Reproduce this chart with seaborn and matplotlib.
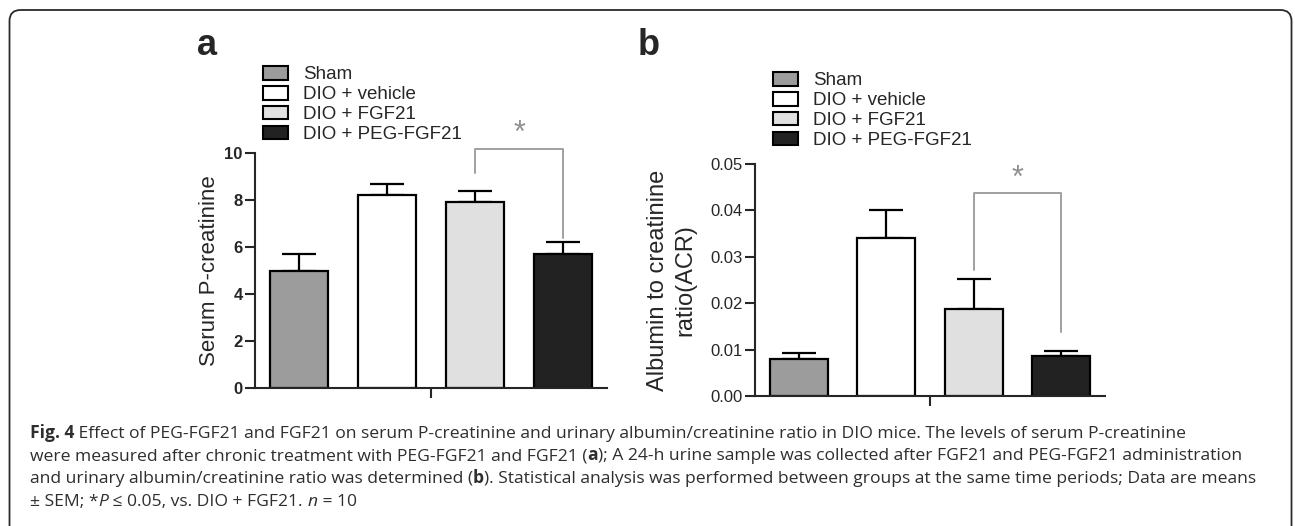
import numpy as np
import matplotlib
matplotlib.use("Agg")
import matplotlib.pyplot as plt
import seaborn as sns
from matplotlib.patches import Patch, FancyBboxPatch
from matplotlib.transforms import IdentityTransform

# groups and colours
groups = ["Sham", "DIO + vehicle", "DIO + FGF21", "DIO + PEG-FGF21"]
bar_colors = ["#9c9c9c", "#ffffff", "#e0e0e0", "#222222"]

# panel a: serum P-creatinine (mean, SEM)
creat_mean = [5.0, 8.21, 7.9, 5.7]
creat_sem = [0.69, 0.45, 0.5, 0.5]

# panel b: albumin to creatinine ratio (mean, SEM)
acr_mean = [0.0080, 0.0340, 0.0188, 0.0086]
acr_sem = [0.0012, 0.0060, 0.0065, 0.0012]

# significance brackets: (left group, right group, top, left end, right end, star height)
sig_a = [2, 3, 10.17, 9.13, 6.38, 10.8]
sig_b = [2, 3, 0.0437, 0.0272, 0.0139, 0.0468]

caption_lines = [
    [("Fig. 4", "bold"), (" Effect of PEG-FGF21 and FGF21 on serum P-creatinine and urinary albumin/creatinine ratio in DIO mice. The levels of serum P-creatinine", "normal")],
    [("were measured after chronic treatment with PEG-FGF21 and FGF21 (", "normal"), ("a", "bold"), ("); A 24-h urine sample was collected after FGF21 and PEG-FGF21 administration", "normal")],
    [("and urinary albumin/creatinine ratio was determined (", "normal"), ("b", "bold"), ("). Statistical analysis was performed between groups at the same time periods; Data are means", "normal")],
    [("\u00b1 SEM; *", "normal"), ("P", "italic"), (" \u2264 0.05, vs. DIO + FGF21. ", "normal"), ("n", "italic"), (" = 10", "normal")],
]

sns.set_style("ticks")
plt.rcParams['font.family'] = ['Liberation Sans', 'DejaVu Sans']

W, H = 1295, 526
fig = plt.figure(figsize=(W / 100, H / 100), dpi=100)


def px_axes(left, top, right, bottom):
    return fig.add_axes([left / W, 1 - bottom / H, (right - left) / W, (bottom - top) / H])


ax_a = px_axes(255, 153, 607, 388)
ax_b = px_axes(755, 164, 1105, 396)


def draw_panel(ax, means, sems, ylim, yticks, fmt, bold, ylabel, ylabel_size, labelpad, sig):
    sns.barplot(x=groups, y=means, hue=groups, palette=bar_colors, order=groups,
                edgecolor="black", linewidth=1.6, width=0.66, errorbar=None,
                legend=False, ax=ax, zorder=2)
    xs = np.arange(len(groups))
    ax.errorbar(xs, means, yerr=[np.zeros(len(sems)), sems], fmt="none",
                ecolor="black", elinewidth=1.6, capsize=12.5, capthick=1.6, zorder=1)
    ax.set_xlim(-0.5, 3.5)
    ax.set_ylim(*ylim)
    ax.set_yticks(yticks)
    ax.set_yticklabels([fmt.format(t) for t in yticks],
                       fontweight="bold" if bold else "normal", fontsize=12)
    ax.set_xticks([1.5])
    ax.set_xticklabels([""])
    ax.set_xlabel("")
    ax.set_ylabel(ylabel, fontsize=ylabel_size, labelpad=labelpad, linespacing=1.3)
    ax.tick_params(axis="both", direction="out", length=7, width=1.5, pad=2)
    for side in ["top", "right"]:
        ax.spines[side].set_visible(False)
    for side in ["left", "bottom"]:
        ax.spines[side].set_linewidth(1.5)
    # significance bracket
    g1, g2, top, yl, yr, ystar = sig
    ax.plot([g1, g1, g2, g2], [yl, top, top, yr], color="#a0a0a0", lw=1.4,
            clip_on=False, zorder=3)
    ax.text((g1 + g2) / 2, ystar, "*", color="#909090", fontsize=22,
            ha="center", va="center", clip_on=False)


draw_panel(ax_a, creat_mean, creat_sem, (0, 10), [0, 2, 4, 6, 8, 10], "{:g}", True,
           "Serum P-creatinine", 16, 3, sig_a)
draw_panel(ax_b, acr_mean, acr_sem, (0, 0.05), [0, 0.01, 0.02, 0.03, 0.04, 0.05], "{:.2f}", False,
           "Albumin to creatinine\nratio(ACR)", 17, 10, sig_b)

# legends
handles = [Patch(facecolor=c, edgecolor="black", linewidth=1.5) for c in bar_colors]
for lx, ly in [(263, 66), (773, 72)]:
    fig.legend(handles, groups, loc="upper left", bbox_to_anchor=(lx / W, 1 - ly / H),
               frameon=False, fontsize=13.5, labelspacing=0.13, handlelength=1.35,
               handleheight=0.75, handletextpad=0.8, borderpad=0, borderaxespad=0)

# panel letters
fig.text(197 / W, 1 - 55 / H, "a", fontsize=26, fontweight="bold", ha="left", va="baseline")
fig.text(638 / W, 1 - 55 / H, "b", fontsize=26, fontweight="bold", ha="left", va="baseline")

# rounded frame
frame = FancyBboxPatch((9.5, -30), 1282, H - 10 + 30, boxstyle="round,pad=0,rounding_size=11",
                       transform=IdentityTransform(), facecolor="none", edgecolor="#2a2a2a",
                       linewidth=1.3)
fig.add_artist(frame)

# caption, drawn segment by segment
renderer = fig.canvas.get_renderer()
cap_font = ['Open Sans', 'DejaVu Sans']
cap_size = 12.6


def seg_width(s, style):
    kw = dict(fontsize=cap_size, family=cap_font)
    if style == "bold":
        kw["fontweight"] = "bold"
    if style == "italic":
        kw["fontstyle"] = "italic"
    t1 = fig.text(0, 0, s + "|", **kw)
    t2 = fig.text(0, 0, "|", **kw)
    w = t1.get_window_extent(renderer).width - t2.get_window_extent(renderer).width
    t1.remove()
    t2.remove()
    return w, kw


for i, line in enumerate(caption_lines):
    x = 30
    y = 438 + 22.5 * i
    for s, style in line:
        w, kw = seg_width(s, style)
        fig.text(x / W, 1 - y / H, s, ha="left", va="baseline", color="#2e2e2e", **kw)
        x += w

fig.savefig("out.png", dpi=100)
